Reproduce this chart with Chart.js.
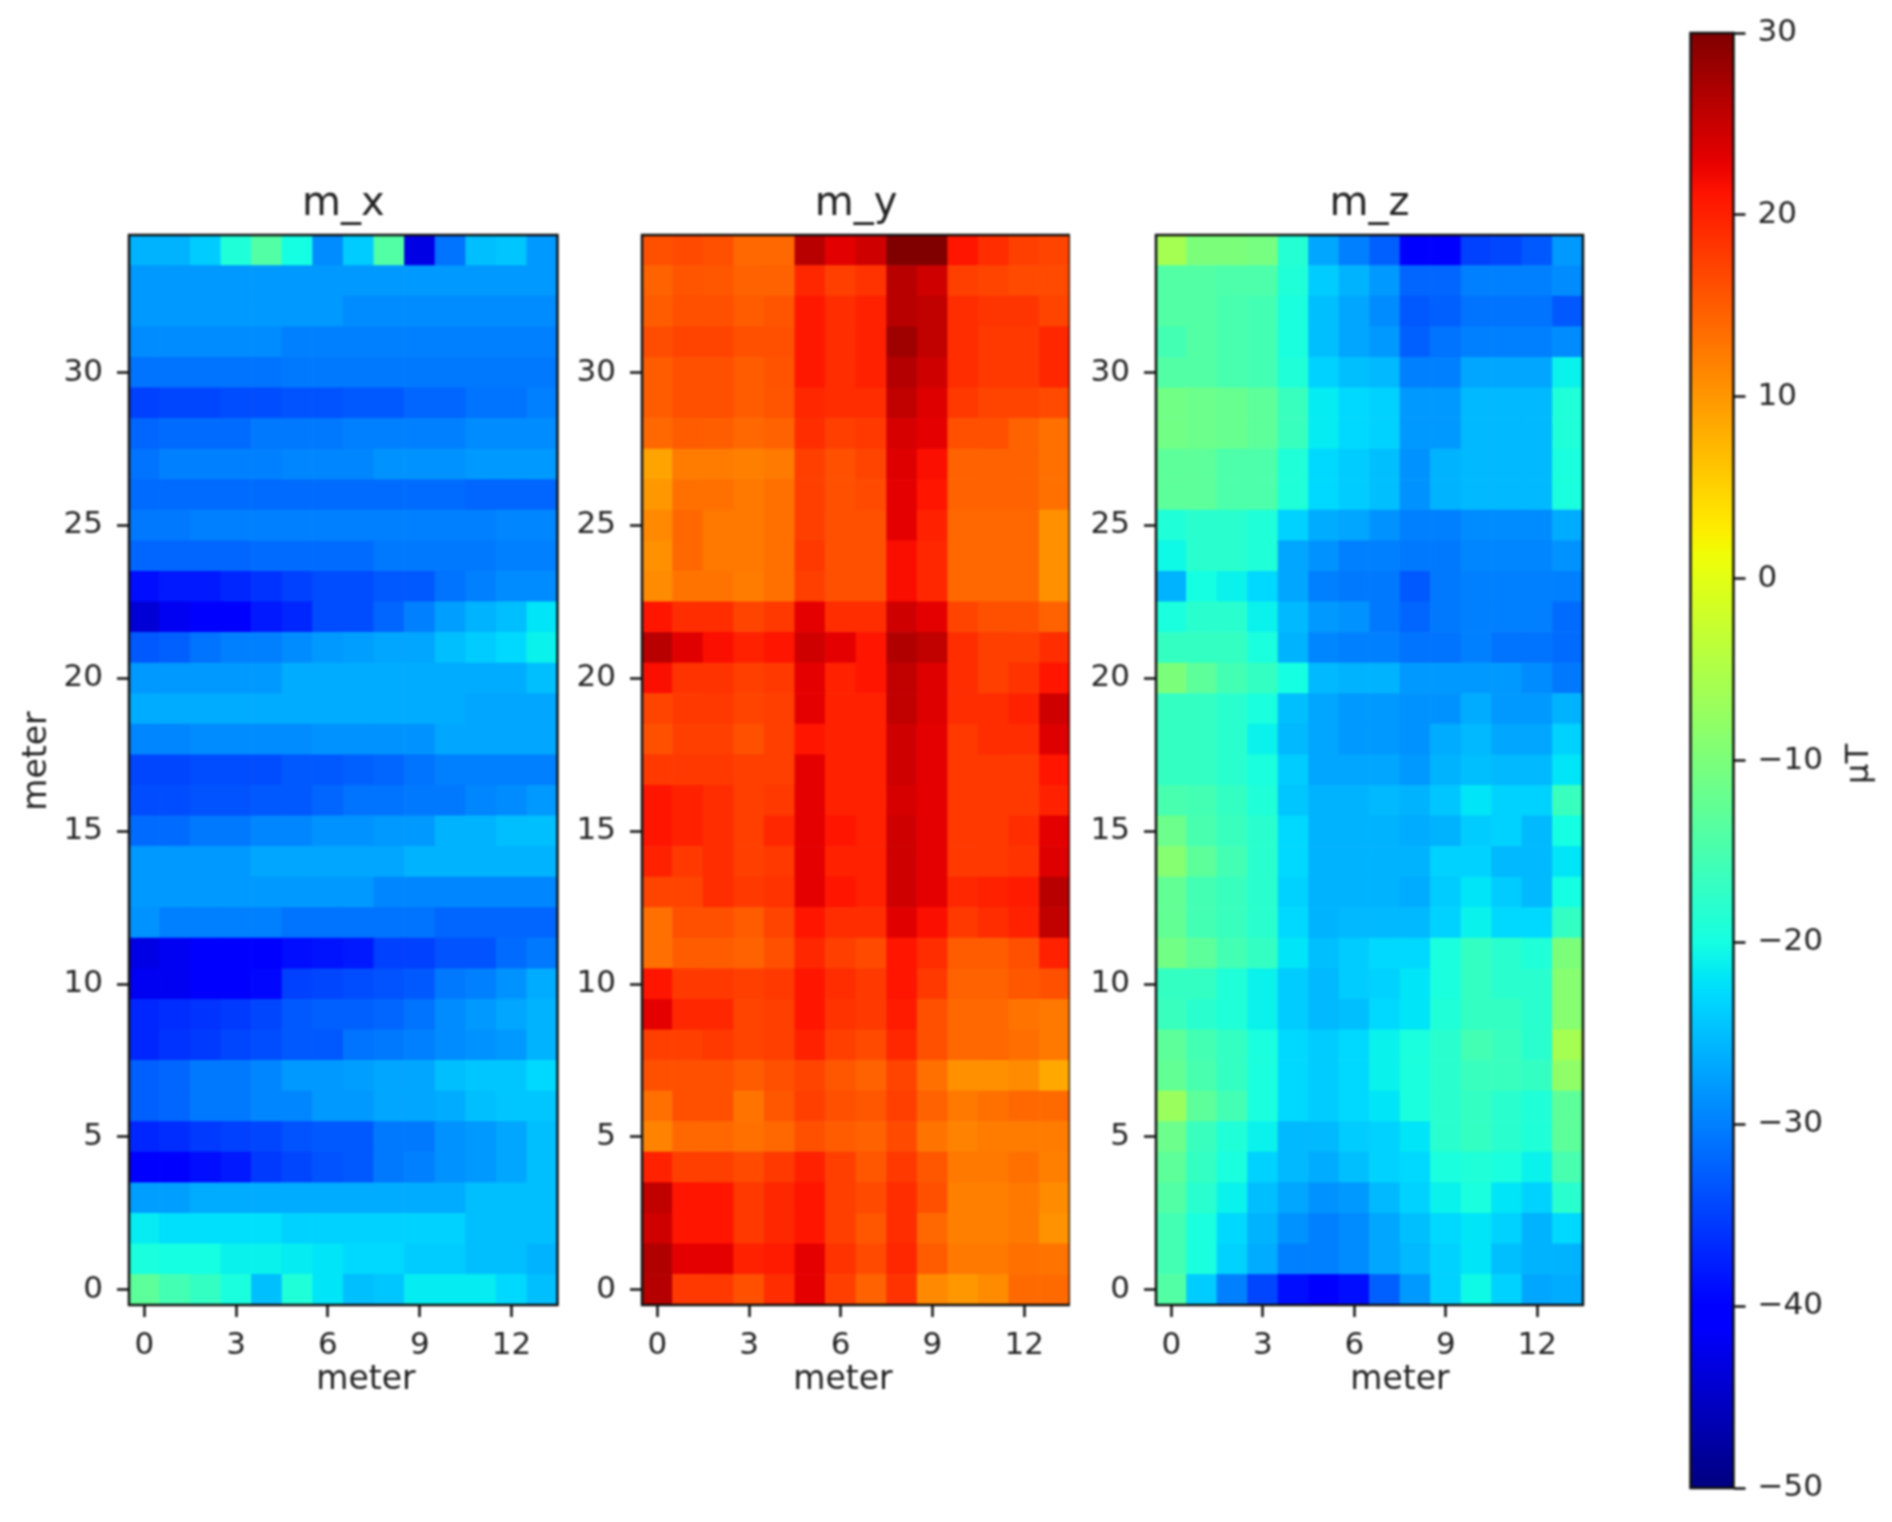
<!DOCTYPE html>
<html>
<head>
<meta charset="utf-8">
<title>m_x m_y m_z</title>
<style>
  html, body { margin: 0; padding: 0; background: #fff; }
  #wrap { position: relative; width: 1892px; height: 1522px; overflow: hidden; }
  canvas { position: absolute; top: 0; filter: blur(0.8px); }
</style>
<script src="https://cdn.jsdelivr.net/npm/chart.js@4/dist/chart.umd.min.js"></script>
</head>
<body>
<div id="wrap">
  <canvas id="chartX" width="600" height="1522" style="left:0"></canvas>
  <canvas id="chartY" width="510" height="1522" style="left:560px"></canvas>
  <canvas id="chartZ" width="510" height="1522" style="left:1075px"></canvas>
  <canvas id="chartBar" width="242" height="1522" style="left:1650px"></canvas>
</div>
<script>
// rows run from the top of the plot (row 34) down to row 0
var mX = [
  [-26,-26,-24,-19,-14,-20,-29,-24,-14,-43,-31,-25,-24.5,-28],
  [-28,-28,-28,-28,-28,-28,-28,-28,-28,-28,-28,-28,-28,-28],
  [-28,-28,-28,-28,-28,-28,-28,-29,-29,-29,-29,-29,-29,-29],
  [-29,-29,-29,-29,-29,-30,-30,-30,-30,-30,-30,-30,-30,-30],
  [-31,-31,-31,-31,-31,-30.5,-30.5,-30.5,-30.5,-30.5,-30.5,-30.5,-30.5,-30.5],
  [-35,-34.5,-34.5,-34,-34,-33.5,-33.5,-33,-33,-32,-32,-31,-31,-30],
  [-32,-31.5,-31.5,-31.5,-30.5,-30.5,-30.5,-30,-30,-30,-30,-29,-29,-29],
  [-31,-30,-30,-30,-30,-29.5,-29.5,-29.5,-28.5,-28.5,-28.5,-28,-28,-28],
  [-31.5,-31.5,-31.5,-31.5,-31.5,-31.5,-31.5,-31.5,-31.5,-31.5,-31.5,-32,-32,-32],
  [-30.5,-30.5,-30,-30,-30,-30,-30,-30,-30,-30,-30,-30,-29.5,-29.5],
  [-32,-32,-32,-32,-31.5,-31.5,-31.5,-31.5,-30.5,-30.5,-30.5,-30.5,-30,-30],
  [-39,-38,-38,-37,-36,-35,-34,-34,-33,-33,-31,-30,-29,-29],
  [-44,-42,-41,-40,-38,-37,-34,-34,-32,-30,-27.5,-26,-25,-22],
  [-33,-32.5,-31,-30,-30,-29,-28,-27.5,-27,-27,-25,-24,-23,-21],
  [-28,-28,-28,-28,-28,-26.5,-26.5,-26.5,-26.5,-26.5,-26.5,-26.5,-26.5,-25],
  [-26.5,-26.5,-26.5,-26.5,-26.5,-26.5,-26.5,-26.5,-26.5,-26.5,-26.5,-27,-27,-27],
  [-29.5,-29.5,-29,-29,-29,-29,-28.5,-28.5,-28.5,-28.5,-27,-27,-27,-27],
  [-34.5,-34.5,-34,-34,-34,-33,-33,-32.5,-32,-31,-30,-30,-30,-30],
  [-34,-34,-33.5,-33.5,-33,-33,-32,-31,-31,-30.5,-30.5,-29.5,-29,-28],
  [-31.5,-31.5,-30.5,-30.5,-29.5,-29.5,-28.5,-28.5,-28,-28,-26,-26,-25,-25],
  [-28,-28,-28,-28,-27,-27,-27,-27,-27,-26,-26,-26,-26,-26],
  [-28,-28,-28,-28,-28,-28,-28,-28,-29.5,-29.5,-29.5,-29.5,-29.5,-29.5],
  [-28.5,-30,-30,-30,-30,-31,-31,-31,-31,-31,-32,-32,-32,-32],
  [-43,-42,-41,-41,-40,-39,-38.5,-38,-35,-35,-33.5,-33.5,-31.5,-30.5],
  [-42,-42,-41,-40,-39.5,-35,-34.5,-34,-33.5,-33,-30.5,-30,-28.5,-26.5],
  [-37,-36.5,-36,-35.5,-34.5,-33,-32.5,-32.5,-32,-31,-29,-28,-27,-26],
  [-37,-36,-35.5,-34.5,-34,-33,-33,-31,-30.5,-30,-29,-28.5,-28,-26],
  [-32.5,-32,-30.5,-30.5,-29.5,-28,-28,-27.5,-27,-27,-25,-24.5,-24.5,-23],
  [-32.5,-32,-30.5,-30.5,-29.5,-29.5,-28,-28,-27,-27,-26.5,-25,-24.5,-24.5],
  [-37,-36.5,-35.5,-35,-34.5,-33.5,-33,-33,-30.5,-30.5,-28.5,-28,-27,-25],
  [-41,-40,-39,-38,-35.5,-34.5,-33.5,-33,-30.5,-30,-28.5,-28,-27,-25],
  [-27.5,-27.5,-26.5,-26.5,-26.5,-26.5,-26.5,-26.5,-26.5,-26.5,-26.5,-25,-25,-25],
  [-21.5,-22.5,-22.5,-22.5,-22.5,-23.5,-23.5,-23.5,-23.5,-23.5,-23.5,-25,-25,-25],
  [-19.5,-20,-20,-21,-21,-21.5,-22,-23,-23,-24,-24,-25,-25,-26],
  [-13,-15.5,-17,-19.5,-25,-19,-22,-25,-24.5,-21.5,-21.5,-21.5,-23,-25]
];
var mY = [
  [16,16.5,16,14,14,26,23.2,24.5,30,30,21,19,17.5,17],
  [14.5,15.7,15.5,14.5,14.5,19.5,17.5,18.5,26,24.5,17.5,17,16.5,16.5],
  [15,16,16,15,15.7,20.8,19,20,26,25.5,19,18.3,18.3,17],
  [16.3,17,17,16,16,20.8,19,20,27.8,25.5,19,18,18,19.5],
  [15,16,16,15,15.8,20.8,19,20,26.4,24.5,19,18,18,19.5],
  [15,16,16,15,15.7,19.5,19,19,25.5,23.5,18,17,17,16.5],
  [14,15,14.8,14,14.5,19,17.5,18,24,23,16,16,14.5,13.3],
  [9,12.3,12.3,12,12.5,17.5,16,17,23.5,21.5,14.5,14.5,14.5,13.3],
  [10,13.3,13.3,12.6,13.3,17.5,16,16.5,23,21,14.5,14.5,14.5,13.3],
  [11.2,14,12.6,12.6,13.3,17.5,16,16,23,20,14,14,14,10.5],
  [10.6,14,12.6,12.6,13.3,18,16,16,21.6,19.5,14,14,14,10.5],
  [11,13,13,12.3,13.3,17.5,16,16,21.6,19.5,14,14,14,10.5],
  [21,19,19,17,18,23,19,19,24.5,23,17,16,16,14.5],
  [26,23.3,21.5,20,21,24.5,23,21,26.6,25.5,19,17.5,17.5,19],
  [21.5,18.5,18.5,17.5,18,23,20,21,25.5,23.5,19,17.5,18.5,21],
  [17,18,18,17,17.5,23,20,20,25.5,23.5,19,19,20,24.5],
  [16,17.5,17.5,16,17.5,21,20,20,24.5,23,18,19,19,23.5],
  [18,18,18,17.5,17.5,23,20,20,24.5,23,18,18,18,21],
  [21,20,19,17.5,18,23,20,20,24,23,18,18,18,20],
  [21,20,19,17.5,19.5,23,21,20,24.5,23,18,18,19,23],
  [20,18,19,17.5,18,23,20,20,24.5,23,18,18,18.5,23.5],
  [17,17,19,18,18.5,23,21,20,24.5,23,19.5,20,20.5,26],
  [13.3,16,16,15,17,21,19,19,23.3,21.5,18,19,20,25.5],
  [13.3,15,15,14.5,16,19.5,17.5,16.5,21,19,15,15,16,20],
  [21,18,18,17.5,18,21,19,18,21,18,14.5,14.5,15.5,16],
  [23,19.5,19.5,17,17.5,21,18.5,18,20.5,16,14,14,13,12.6],
  [17.5,17.5,18,17,17.5,20,17.5,16.5,19.5,16,14,14,13.5,12.6],
  [16,16,16,15,16,17,15.5,14.5,17,13.3,10.6,10.6,11,8.6],
  [13.3,16,16,13,15.5,17.5,16,15.5,17.5,14.5,12.6,13.3,14,13.8],
  [11.7,14,14,13.3,14,16,15,14.5,16.5,13,11.7,12.3,12.3,12.3],
  [20,17.5,17.5,16.5,18,20,17.5,15.5,18,15.5,12.6,12.6,13.3,12],
  [25.5,21,21,18,19.5,21,17.5,16.5,19,16,12,12,12.6,11],
  [24.5,21,21,18,19.5,21,17.5,15.5,19,14,12,12,12.6,10.4],
  [26.6,23,23,20,20.5,23,18.5,16.5,19.5,15,12.6,12.6,13.3,13],
  [26.4,18,18,16,19,23,17.5,14.5,18.5,11.2,10,11,13.8,13.8]
];
var mZ = [
  [-6,-10,-10,-10.5,-18.5,-27,-30,-32.5,-41,-40,-35,-34.5,-33,-28],
  [-14,-14,-14.5,-14.5,-19,-24,-26,-28,-32,-32,-30,-30,-30,-29],
  [-14,-14,-15,-15.5,-19.5,-25,-27,-29,-33,-32.5,-31,-31,-31,-33],
  [-15.5,-14,-15,-15.5,-19.5,-25,-27,-28,-32.5,-31,-30,-30,-30,-29],
  [-14,-14,-15,-15.5,-19,-23.5,-25,-25.5,-30,-30,-27,-27,-27,-21],
  [-11,-11.5,-12,-13,-16.5,-21.5,-23,-23.5,-28,-28,-25.5,-25.5,-25.5,-19],
  [-11,-11.5,-12,-13,-16.5,-21.5,-23,-23.5,-28,-28,-25.5,-25.5,-25.5,-19],
  [-13,-13,-14.5,-14.5,-19,-23,-24,-25,-28.5,-26,-25.5,-25.5,-25.5,-19.5],
  [-13,-13,-14.5,-14.5,-19,-23,-24,-25,-28.5,-26,-25.5,-25.5,-25.5,-19.5],
  [-19,-18,-18,-19,-23.5,-26.5,-27,-28.5,-30,-30,-29,-29,-29,-26.5],
  [-20.5,-18,-18,-19,-27,-28.5,-30,-30,-30.5,-30.5,-29.5,-29.5,-29.5,-28.5],
  [-26,-20,-21,-23,-27,-30,-30.5,-30.5,-33,-30.5,-30,-30,-30,-30],
  [-19.5,-18,-18,-21,-25.5,-28,-28.5,-30.5,-32,-30.5,-30,-30,-30,-31.5],
  [-17,-17,-17,-19.5,-26,-29.5,-30,-30,-31,-31,-30,-31,-31,-31.5],
  [-10,-13,-15.5,-17,-20,-25.5,-26,-26,-28,-28,-28,-28,-29,-30.5],
  [-17,-17,-18,-19.5,-25,-27,-28,-28,-28.5,-28.5,-26.5,-28,-28,-26],
  [-17,-17,-18,-21,-25.5,-27,-28,-28,-28.5,-26.5,-25.5,-27,-27,-23.5],
  [-17,-17,-18,-19.5,-24,-27,-27,-27,-28,-26,-25,-25.5,-25.5,-22],
  [-15,-15.5,-17,-19,-24.5,-26,-26,-25.5,-26,-24.5,-22,-23.5,-23.5,-16.5],
  [-11.5,-15,-16.5,-18,-23,-26,-26,-26,-26.5,-26,-24,-23.5,-25.5,-20],
  [-9,-13,-15.5,-18,-23,-26,-26,-26,-26,-23.5,-23.5,-25.5,-25.5,-22],
  [-12.5,-15.5,-16.5,-18,-23.5,-26,-26,-26,-26.5,-24,-22,-24,-25.5,-20],
  [-12.5,-15.5,-16.5,-18,-23,-26,-25.5,-25.5,-25.5,-23.5,-21,-23,-23,-17],
  [-11,-13,-15.5,-17,-22,-25,-24,-23,-23,-19.5,-17,-18,-19,-10],
  [-17,-17,-19,-21,-24,-25.5,-24,-23.5,-22,-19.5,-17,-18,-18,-9],
  [-16.5,-18,-19,-21,-24,-25.5,-25,-23,-22,-19,-17,-17,-18,-9],
  [-13,-15.5,-17,-19.5,-23,-24,-23,-21,-19.5,-18,-15.5,-16.5,-18,-6],
  [-12.5,-15,-17,-19.5,-23,-24,-23,-21,-19.5,-18,-16.5,-16.5,-17,-8],
  [-7,-13,-15.5,-19.5,-23,-24,-23,-22,-19.5,-18,-17,-18,-19,-13],
  [-11.5,-16.5,-19,-21,-25.5,-25.5,-24,-23.5,-22,-18,-17,-18,-19,-13],
  [-13,-17,-19.5,-23.5,-25.5,-26.5,-25,-23.5,-23,-19.5,-19,-19.5,-21,-15],
  [-14,-18,-21,-25,-27,-28.5,-28,-25.5,-23.5,-21,-19.5,-22,-23.5,-18],
  [-15.5,-19.5,-23,-26,-28.5,-30,-29,-27,-25,-23,-22,-23.5,-26,-23],
  [-15.5,-19.5,-23.5,-26.5,-30,-30,-29,-27,-25.5,-23.5,-22,-25,-26,-26],
  [-14,-24,-30,-34.5,-39,-41,-39,-32.5,-28,-23.5,-20.5,-23.5,-27,-26.5]
];
var xTicks = [0, 3, 6, 9, 12];
var yTicks = [0, 5, 10, 15, 20, 25, 30];
var barTicks = [-50, -40, -30, -20, -10, 0, 10, 20, 30];
var vMin = -50;
var vMax = 30;

var FONT = '"DejaVu Sans", sans-serif';
var INK = '#222';

// same breakpoints as the usual jet colormap
function jet(t) {
  function clamp(v) { return Math.max(0, Math.min(1, v)); }
  var r = t < 0.89 ? clamp((t - 0.35) / 0.31) : 1 - (t - 0.89) / 0.11 * 0.5;
  var g = t < 0.64 ? clamp((t - 0.125) / 0.25) : clamp((0.91 - t) / 0.27);
  var b = t < 0.11 ? 0.5 + t / 0.11 * 0.5 : clamp((0.65 - t) / 0.31);
  return 'rgb(' + Math.round(r * 255) + ',' + Math.round(g * 255) + ',' + Math.round(b * 255) + ')';
}

function valueColor(v) {
  return jet((v - vMin) / (vMax - vMin));
}

// outline of the plot plus axis labels that sit off centre
var framePlugin = {
  id: 'frame',
  afterDraw: function (chart, args, opts) {
    var a = chart.chartArea;
    var ctx = chart.ctx;
    ctx.save();
    ctx.strokeStyle = '#111';
    ctx.lineWidth = 2.5;
    ctx.strokeRect(a.left, a.top, a.right - a.left, a.bottom - a.top);
    ctx.fillStyle = INK;
    ctx.textAlign = 'center';
    ctx.textBaseline = 'middle';
    (opts.notes || []).forEach(function (n) {
      ctx.save();
      ctx.translate(n.x, n.y);
      if (n.up) ctx.rotate(-Math.PI / 2);
      ctx.font = n.size + 'px ' + FONT;
      ctx.fillText(n.text, 0, 0);
      ctx.restore();
    });
    ctx.restore();
  }
};

function fixedTicks(list) {
  return function (scale) {
    scale.ticks = list.map(function (v) { return { value: v }; });
  };
}

function axisTicks(pad) {
  return {
    color: INK,
    padding: pad,
    font: { family: FONT, size: 31 },
    maxRotation: 0,
    autoSkip: false
  };
}

function axisGrid() {
  return {
    offset: false,
    drawOnChartArea: false,
    drawTicks: true,
    tickLength: 12,
    tickWidth: 2.5,
    tickColor: '#111'
  };
}

function heatPanel(id, rows, name, axisWidth, notes) {
  var points = [];
  var colors = [];
  rows.forEach(function (row, i) {
    var y = rows.length - 1 - i;
    row.forEach(function (v, x) {
      points.push({ x: x, y: [y - 0.5, y + 0.5] });
      colors.push(valueColor(v));
    });
  });

  new Chart(document.getElementById(id).getContext('2d'), {
    type: 'bar',
    data: {
      datasets: [{
        label: name,
        data: points,
        backgroundColor: colors,
        borderWidth: 0,
        barPercentage: 1,
        categoryPercentage: 1
      }]
    },
    plugins: [framePlugin],
    options: {
      responsive: false,
      animation: false,
      layout: { padding: { right: id === 'chartX' ? 42.5 : (id === 'chartY' ? 0 : 2) } },
      plugins: {
        legend: { display: false },
        tooltip: { enabled: false },
        title: {
          display: true,
          text: name,
          fullSize: false,
          color: INK,
          font: { family: FONT, size: 40, weight: 'normal', lineHeight: 1.2 },
          padding: { top: 181, bottom: 6 }
        },
        frame: { notes: notes }
      },
      scales: {
        x: {
          type: 'linear',
          offset: false,
          min: -0.5,
          max: 13.5,
          afterBuildTicks: fixedTicks(xTicks),
          afterFit: function (s) { s.height = 217; },
          ticks: axisTicks(10),
          grid: axisGrid(),
          border: { display: false }
        },
        y: {
          type: 'linear',
          min: -0.5,
          max: 34.5,
          afterBuildTicks: fixedTicks(yTicks),
          afterFit: function (s) { s.width = axisWidth; },
          ticks: axisTicks(14),
          grid: axisGrid(),
          border: { display: false }
        }
      }
    }
  });
}

function colorBar() {
  new Chart(document.getElementById('chartBar').getContext('2d'), {
    type: 'bar',
    data: {
      labels: ['µT'],
      datasets: [{
        data: [[vMin, vMax]],
        borderWidth: 0,
        barPercentage: 1,
        categoryPercentage: 1,
        backgroundColor: function (ctx) {
          var area = ctx.chart.chartArea;
          if (!area) return '#000';
          var g = ctx.chart.ctx.createLinearGradient(0, area.bottom, 0, area.top);
          for (var i = 0; i <= 128; i++) {
            g.addColorStop(i / 128, jet(i / 128));
          }
          return g;
        }
      }]
    },
    plugins: [framePlugin],
    options: {
      responsive: false,
      animation: false,
      layout: { padding: { left: 40.5, top: 33, bottom: 34 } },
      plugins: {
        legend: { display: false },
        tooltip: { enabled: false },
        title: { display: false },
        frame: { notes: [{ text: 'µT', x: 210, y: 764, size: 32, up: true }] }
      },
      scales: {
        x: { display: false },
        y: {
          type: 'linear',
          position: 'right',
          min: vMin,
          max: vMax,
          afterBuildTicks: fixedTicks(barTicks),
          afterFit: function (s) { s.width = 158.5; },
          ticks: Object.assign(axisTicks(12), {
            callback: function (v) { return String(v).replace('-', '\u2212'); }
          }),
          grid: axisGrid(),
          border: { display: false }
        }
      }
    }
  });
}

heatPanel('chartX', mX, 'm_x', 129, [
  { text: 'meter', x: 366, y: 1380, size: 33 },
  { text: 'meter', x: 37, y: 761, size: 33, up: true }
]);
heatPanel('chartY', mY, 'm_y', 82, [{ text: 'meter', x: 283, y: 1380, size: 33 }]);
heatPanel('chartZ', mZ, 'm_z', 81, [{ text: 'meter', x: 325, y: 1380, size: 33 }]);
colorBar();
</script>
</body>
</html>
